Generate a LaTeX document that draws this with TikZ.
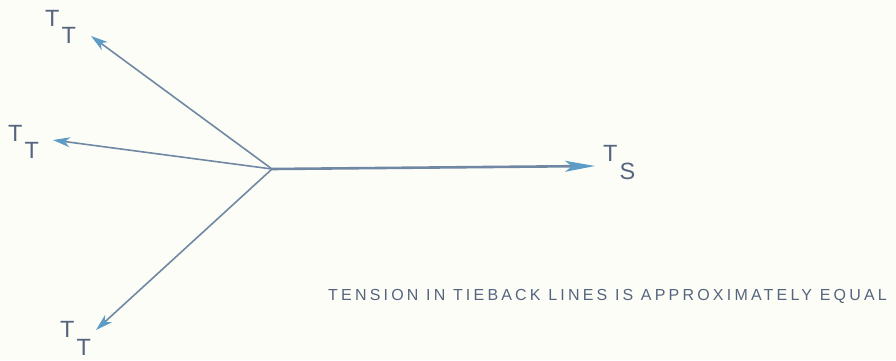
\documentclass[tikz,border=0pt]{standalone}
\usepackage{fontspec}
\setmainfont{Liberation Sans}
\newfontfamily\capfont[LetterSpace=20]{Liberation Sans}
\usetikzlibrary{arrows.meta, positioning}
\definecolor{PaperBg}{HTML}{FDFDF8}
\definecolor{RopeLine}{HTML}{7088A4}
\definecolor{TipFill}{HTML}{5C9CC6}
\definecolor{InkText}{HTML}{56657F}
\newcommand{\forcelabel}[2]{#1\kern2pt\raisebox{-0.75em}{#2}}

\begin{document}
\begin{tikzpicture}[
    x=1pt, y=-1pt,
    rope/.style={
        draw=RopeLine, line width=1.6pt,
        -{Stealth[length=17pt, width=10pt, inset=5pt, color=TipFill]}
    },
    mainrope/.style={
        rope, line width=2.6pt,
        -{Stealth[length=30pt, width=11pt, inset=7pt, color=TipFill]}
    },
    force/.style={
        font=\fontsize{23.5}{23.5}\selectfont, text=InkText, inner sep=0pt,
        anchor=north west
    },
    note/.style={
        font=\capfont\fontsize{16}{17}\selectfont, text=InkText,
        inner sep=0pt, anchor=base west
    }
]

% Page
\fill[PaperBg] (0,0) rectangle (896,360);
\useasboundingbox (0,0) rectangle (896,360);

% Junction and line ends
\coordinate (hub) at (272,169);
\coordinate (up) at (91,36);
\coordinate (mid) at (53,140);
\coordinate (low) at (96,330);
\coordinate (stay) at (595,166);

% Force labels
\node[force] (tup) at (45,10) {\forcelabel{T}{T}};
\node[force] (tmid) at (8,125) {\forcelabel{T}{T}};
\node[force] (tlow) at (60,321) {\forcelabel{T}{T}};
\node[force] (ts) at (603,145) {\forcelabel{T}{S}};

% Tieback lines
\foreach \e in {up, mid, low} {
    \draw[rope] (hub) -- (\e);
}
\draw[mainrope] (hub) -- (stay);

% Note
\node[note] (eq) at (328,300)
    {TENSION IN TIEBACK LINES IS APPROXIMATELY EQUAL};

\end{tikzpicture}
\end{document}
